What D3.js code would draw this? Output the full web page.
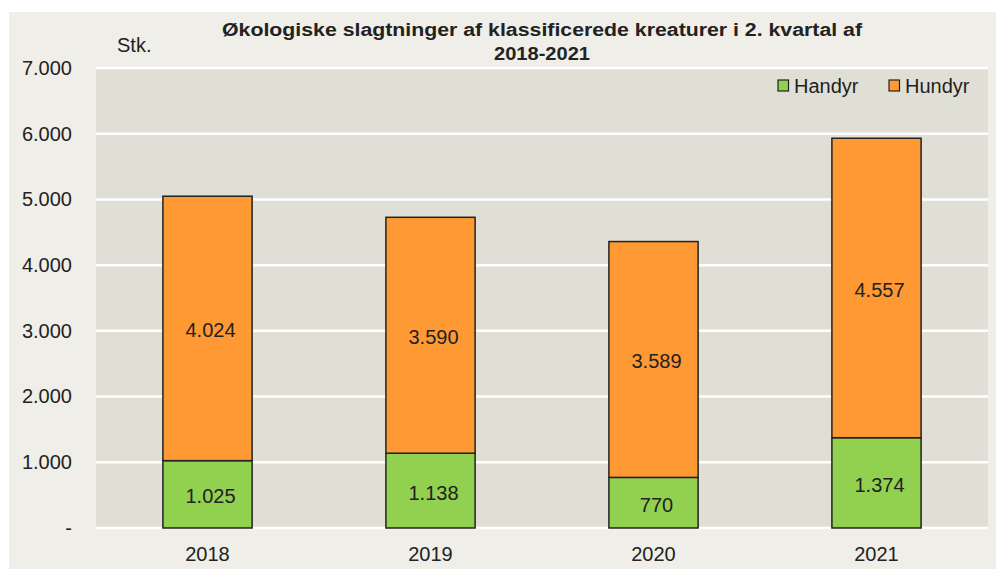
<!DOCTYPE html>
<html>
<head>
<meta charset="utf-8">
<script src="https://cdn.jsdelivr.net/npm/d3@7"></script>
<style>
  body { margin: 0; background: #ffffff; }
  svg text { font-family: "Liberation Sans", Arial, sans-serif; fill: #222; }
</style>
</head>
<body>
<svg id="chart" width="998" height="569"></svg>
<script>
var years = ["2018", "2019", "2020", "2021"];
var handyr = [1025, 1138, 770, 1374];
var hundyr = [4024, 3590, 3589, 4557];
var seriesNames = ["Handyr", "Hundyr"];
var seriesColors = ["#92d050", "#ff9933"];
var yTicks = [0, 1000, 2000, 3000, 4000, 5000, 6000, 7000];

var plotLeft = 96, plotRight = 988, plotTop = 68, plotBottom = 528;

var svg = d3.select("#chart");

// baggrund
svg.append("rect")
    .attr("x", 9).attr("y", 12)
    .attr("width", 987).attr("height", 557)
    .attr("fill", "#efeee8");

svg.append("rect")
    .attr("x", plotLeft).attr("y", plotTop)
    .attr("width", plotRight - plotLeft).attr("height", plotBottom - plotTop)
    .attr("fill", "#e0dfd5");

var x = d3.scaleBand().domain(years).range([plotLeft, plotRight]).paddingInner(0.6).paddingOuter(0.3);
var y = d3.scaleLinear().domain([0, 7000]).range([plotBottom, plotTop]);

var fmt = function(v) {
    if (v === 0) return "-";
    return d3.format(",")(v).replace(/,/g, ".");
};

// gitterlinjer
svg.selectAll(".grid").data(yTicks).enter().append("line")
    .attr("x1", plotLeft).attr("x2", plotRight)
    .attr("y1", function(d) { return y(d); })
    .attr("y2", function(d) { return y(d); })
    .attr("stroke", "#ffffff")
    .attr("stroke-width", 2.5);

var yAxis = d3.axisLeft(y).tickValues(yTicks).tickSize(0).tickPadding(24).tickFormat(fmt);
var gy = svg.append("g").attr("transform", "translate(" + plotLeft + ",0)").call(yAxis);
gy.select(".domain").remove();
gy.selectAll("text").attr("font-size", 20).attr("fill", "#222")
    .attr("font-family", "Liberation Sans, Arial, sans-serif");

var xAxis = d3.axisBottom(x).tickSize(0).tickPadding(19);
var gx = svg.append("g").attr("transform", "translate(0," + plotBottom + ")").call(xAxis);
gx.select(".domain").remove();
gx.selectAll("text").attr("font-size", 20).attr("fill", "#222")
    .attr("font-family", "Liberation Sans, Arial, sans-serif");

// stablede søjler
var rows = years.map(function(yr, i) { return { year: yr, Handyr: handyr[i], Hundyr: hundyr[i] }; });
var stack = d3.stack().keys(seriesNames)(rows);

stack.forEach(function(layer, li) {
    svg.selectAll(".bar" + li).data(layer).enter().append("rect")
        .attr("x", function(d) { return x(d.data.year); })
        .attr("y", function(d) { return y(d[1]); })
        .attr("width", x.bandwidth())
        .attr("height", function(d) { return y(d[0]) - y(d[1]); })
        .attr("fill", seriesColors[li])
        .attr("stroke", "#222")
        .attr("stroke-width", 1.5);

    svg.selectAll(".lab" + li).data(layer).enter().append("text")
        .attr("x", function(d) { return x(d.data.year) + x.bandwidth() / 2 + 3; })
        .attr("y", function(d) { return (y(d[0]) + y(d[1])) / 2 + 9; })
        .attr("text-anchor", "middle")
        .attr("font-size", 20)
        .text(function(d) { return fmt(d[1] - d[0]); });
});

// titel (smal skrift efterlignes med textLength)
var titleX = (plotLeft + plotRight) / 2;
svg.append("text")
    .attr("x", titleX).attr("y", 36)
    .attr("text-anchor", "middle")
    .attr("font-weight", "bold")
    .attr("font-size", 18)
    .attr("textLength", 640)
    .attr("lengthAdjust", "spacingAndGlyphs")
    .text("Økologiske  slagtninger  af klassificerede  kreaturer i  2. kvartal af");
svg.append("text")
    .attr("x", titleX).attr("y", 60)
    .attr("text-anchor", "middle")
    .attr("font-weight", "bold")
    .attr("font-size", 18)
    .attr("textLength", 96)
    .attr("lengthAdjust", "spacingAndGlyphs")
    .text("2018-2021");

svg.append("text").attr("x", 117).attr("y", 52).attr("font-size", 20).text("Stk.");

// forklaring
var legendX = [778, 889];
seriesNames.forEach(function(name, i) {
    svg.append("rect")
        .attr("x", legendX[i]).attr("y", 80)
        .attr("width", 10.5).attr("height", 11)
        .attr("fill", seriesColors[i])
        .attr("stroke", "#222").attr("stroke-width", 1.2);
    svg.append("text")
        .attr("x", legendX[i] + 16).attr("y", 93)
        .attr("font-size", 20)
        .text(name);
});
</script>
</body>
</html>
